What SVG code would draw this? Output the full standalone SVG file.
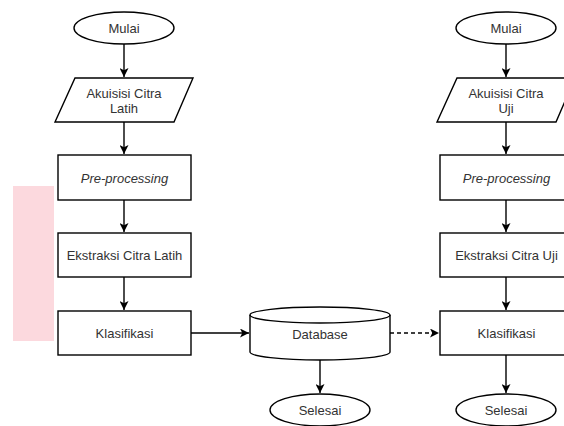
<svg xmlns="http://www.w3.org/2000/svg" width="564" height="426" viewBox="0 0 564 426">
<defs>
<marker id="ah" viewBox="0 0 10 10" refX="10" refY="5" markerWidth="9" markerHeight="9" markerUnits="userSpaceOnUse" orient="auto">
<path d="M0,0 L10,5 L0,10 L2.5,5 Z" fill="#000"/>
</marker>
<style>
.s{fill:#fff;stroke:#000;stroke-width:1.4}
.t{font-family:"Liberation Sans",Arial,sans-serif;font-size:13px;fill:#333;text-anchor:middle;dominant-baseline:central}
.c{fill:none;stroke:#000;stroke-width:1.4}
</style>
</defs>
<rect x="13" y="186" width="41" height="155" fill="#fcd9de"/>
<g id="mulai1"><ellipse class="s" cx="124" cy="28" rx="50" ry="16"/><text class="t" x="124" y="28">Mulai</text></g>
<g id="akuisisi1"><polygon class="s" points="75,78 193,78 174,122 55,122"/><text class="t" x="124" y="93">Akuisisi Citra</text><text class="t" x="124" y="108">Latih</text></g>
<g id="pre1"><rect class="s" x="58" y="155" width="133" height="45"/><text class="t" x="124.5" y="178" font-style="italic">Pre-processing</text></g>
<g id="ekstraksi1"><rect class="s" x="58" y="233" width="133" height="44"/><text class="t" x="124.5" y="255">Ekstraksi Citra Latih</text></g>
<g id="klas1"><rect class="s" x="58" y="311" width="133" height="44"/><text class="t" x="124.5" y="333">Klasifikasi</text></g>
<g id="database"><path class="s" d="M250,315 A70,8 0 0 1 390,315 L390,352 A70,8 0 0 1 250,352 Z"/><path class="c" d="M250,315 A70,8 0 0 0 390,315"/><text class="t" x="320" y="334">Database</text></g>
<g id="selesai1"><ellipse class="s" cx="320" cy="410" rx="50" ry="16"/><text class="t" x="320" y="410">Selesai</text></g>
<g id="mulai2"><ellipse class="s" cx="506" cy="28" rx="50" ry="16"/><text class="t" x="506" y="28">Mulai</text></g>
<g id="akuisisi2"><polygon class="s" points="457,78 575,78 556,122 437,122"/><text class="t" x="506" y="93">Akuisisi Citra</text><text class="t" x="506" y="108">Uji</text></g>
<g id="pre2"><rect class="s" x="440" y="155" width="133" height="45"/><text class="t" x="506.5" y="178" font-style="italic">Pre-processing</text></g>
<g id="ekstraksi2"><rect class="s" x="440" y="233" width="133" height="44"/><text class="t" x="506.5" y="255">Ekstraksi Citra Uji</text></g>
<g id="klas2"><rect class="s" x="440" y="311" width="133" height="44"/><text class="t" x="506.5" y="333">Klasifikasi</text></g>
<g id="selesai2"><ellipse class="s" cx="506" cy="410" rx="50" ry="16"/><text class="t" x="506" y="410">Selesai</text></g>
<g id="connectors">
<path class="c" d="M124,44 V77" marker-end="url(#ah)"/>
<path class="c" d="M124,122 V154" marker-end="url(#ah)"/>
<path class="c" d="M124,200 V232" marker-end="url(#ah)"/>
<path class="c" d="M124,277 V310" marker-end="url(#ah)"/>
<path class="c" d="M191,333 H249" marker-end="url(#ah)"/>
<path class="c" d="M320,360 V393" marker-end="url(#ah)"/>
<path class="c" d="M390,333 H439" stroke-dasharray="4,3" marker-end="url(#ah)"/>
<path class="c" d="M506,44 V77" marker-end="url(#ah)"/>
<path class="c" d="M506,122 V154" marker-end="url(#ah)"/>
<path class="c" d="M506,200 V232" marker-end="url(#ah)"/>
<path class="c" d="M506,277 V310" marker-end="url(#ah)"/>
<path class="c" d="M506,355 V393" marker-end="url(#ah)"/>
</g>
</svg>
